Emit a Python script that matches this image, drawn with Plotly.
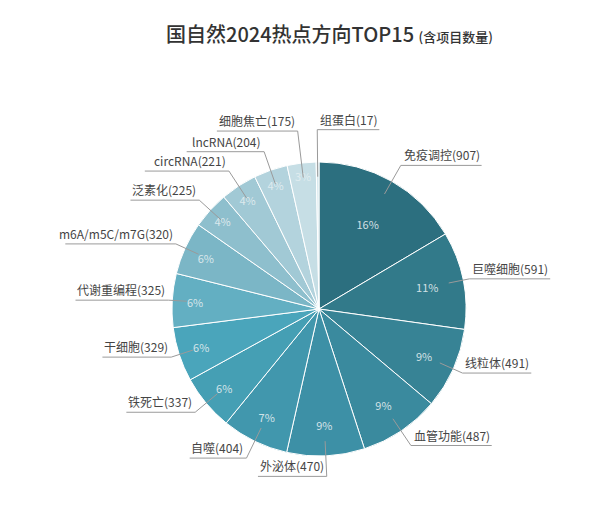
import math
import plotly.graph_objects as go

# ---- data ----
topics = ["免疫调控", "巨噬细胞", "线粒体", "血管功能", "外泌体", "自噬", "铁死亡", "干细胞",
          "代谢重编程", "m6A/m5C/m7G", "泛素化", "circRNA", "lncRNA", "细胞焦亡", "组蛋白"]
counts = [907, 591, 491, 487, 470, 404, 337, 329, 325, 320, 225, 221, 204, 175, 17]
colors = ["#2c6f7f", "#327a8a", "#378395", "#3a8a9e", "#3d90a6", "#4197ad", "#459fb4", "#4aa5bb",
          "#63afc2", "#7bb6c6", "#8ebfcd", "#a1c9d5", "#b3d3dd", "#c6dee5", "#d8e9ee"]

PAGE_OFF = 8                     # default body margin of the page
W, H = 613 - PAGE_OFF, 512 - PAGE_OFF
CX, CY, R = 319, 309, 147        # pie centre / radius in window pixels

total = sum(counts)
pct_text = [f"{round(c / total * 100)}%" if c / total >= 0.01 else "" for c in counts]

def px(x):
    return (x - PAGE_OFF) / W

def py(y):
    return 1 - (y - PAGE_OFF) / H

fig = go.Figure()
fig.add_trace(go.Pie(
    labels=topics, values=counts, sort=False, direction="clockwise", rotation=0,
    marker=dict(colors=colors, line=dict(color="white", width=1)),
    text=pct_text, textinfo="text", textposition="inside",
    insidetextorientation="horizontal",
    insidetextfont=dict(family="Noto Sans CJK SC", size=11, color="rgba(228,238,241,0.9)"),
    domain=dict(x=[px(CX - R), px(CX + R)], y=[py(CY + R), py(CY - R)]),
    showlegend=False, hoverinfo="label+value+percent",
))

def text_width(s, size=12):
    w = 0
    for ch in s:
        if ord(ch) > 0x2E80:
            w += size
        elif ch in "()/":
            w += size * 0.36
        elif ch.isupper() or ch in "mM":
            w += size * 0.68
        else:
            w += size * 0.56
    return w

shapes = []
annotations = []
cum = 0
for name, c in zip(topics, counts):
    theta = math.radians((cum + c / 2) / total * 360)
    cum += c
    s, co = math.sin(theta), math.cos(theta)
    x0, y0 = CX + 0.9 * R * s, CY - 0.9 * R * co
    r1 = R * (1.02 + 0.12 * abs(co) + (0.08 if co > 0.98 else 0.0))
    x1, y1 = CX + r1 * s, CY - r1 * co
    label = f"{name}({c})"
    tw = text_width(label) + 4
    right = s > 0.1 or co > 0.999
    x2 = x1 + tw if right else x1 - tw
    shapes.append(dict(
        type="path", xref="paper", yref="paper",
        path=f"M {px(x0)} {py(y0)} L {px(x1)} {py(y1)} L {px(x2)} {py(y1)}",
        line=dict(color="#9a9a9a", width=1),
    ))
    annotations.append(dict(
        x=px(x1 + 1 if right else x1 - 1), y=py(y1), xref="paper", yref="paper",
        text=label, showarrow=False, xanchor="left" if right else "right", yanchor="bottom",
        font=dict(family="Noto Sans CJK SC", size=12, color="#454545"),
    ))

annotations.append(dict(
    x=px(329), y=py(33), xref="paper", yref="paper", showarrow=False,
    xanchor="center", yanchor="middle",
    text="国自然2024热点方向TOP15 <span style='font-size:13px'>(含项目数量)</span>",
    font=dict(family="Noto Sans CJK SC", size=20, color="#333333", weight=500),
))

fig.update_layout(
    width=W, height=H, margin=dict(l=0, r=0, t=0, b=0, autoexpand=False),
    paper_bgcolor="white", plot_bgcolor="white",
    shapes=shapes, annotations=annotations,
)
fig.write_html("out.html")
